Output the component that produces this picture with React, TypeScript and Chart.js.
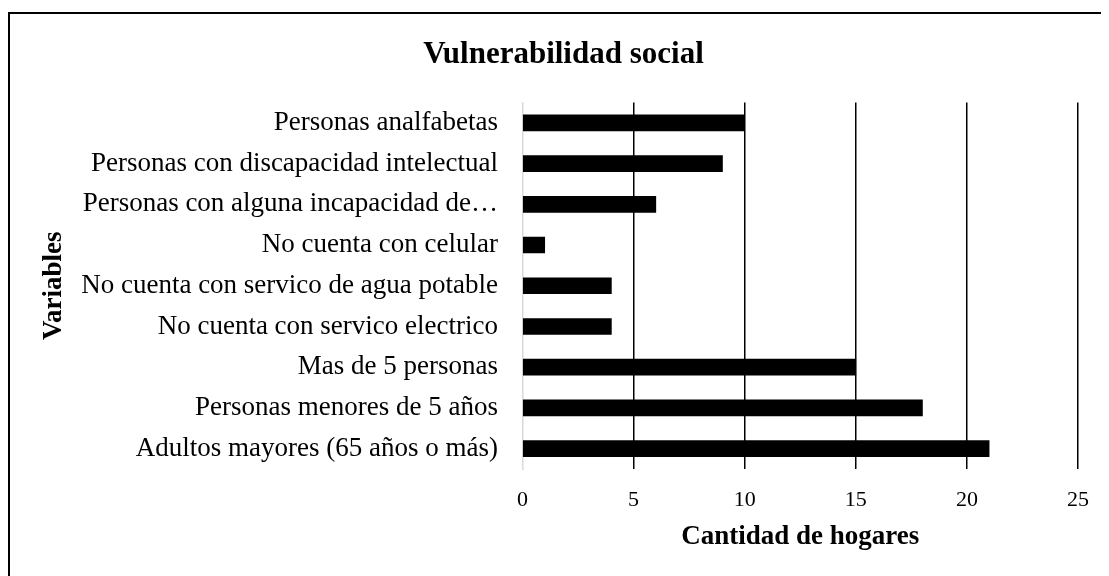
import React, { useEffect, useRef } from "react";
import { Chart, registerables } from "chart.js";

Chart.register(...registerables);

const chartTitle = "Vulnerabilidad social";
const xAxisTitle = "Cantidad de hogares";
const yAxisTitle = "Variables";

const categories = [
  "Personas analfabetas",
  "Personas con discapacidad intelectual",
  "Personas con alguna incapacidad de…",
  "No cuenta con celular",
  "No cuenta con servico de agua potable",
  "No cuenta con servico electrico",
  "Mas de 5 personas",
  "Personas menores de 5 años",
  "Adultos mayores (65 años o más)",
];

const hogares = [10, 9, 6, 1, 4, 4, 15, 18, 21];

const xMin = 0;
const xMax = 25;
const xStep = 5;

const FONT = "'Liberation Serif', 'Times New Roman', serif";

const titlePlugin = {
  id: "customTitle",
  afterDraw(chart: any) {
    const ctx = chart.ctx;
    ctx.save();
    ctx.font = `bold 31px ${FONT}`;
    ctx.fillStyle = "#000";
    ctx.textAlign = "center";
    ctx.textBaseline = "alphabetic";
    ctx.fillText(chartTitle, 553.5, 48.5);
    ctx.restore();
  },
};

export default function App() {
  const canvasRef = useRef<HTMLCanvasElement | null>(null);

  useEffect(() => {
    document.body.style.overflow = "hidden";
    const canvas = canvasRef.current;
    if (!canvas) return;
    const chart = new Chart(canvas, {
      type: "bar",
      data: {
        labels: categories,
        datasets: [
          {
            label: xAxisTitle,
            data: hogares,
            backgroundColor: "#000000",
            borderWidth: 0,
            barThickness: 16,
          },
        ],
      },
      plugins: [titlePlugin],
      options: {
        indexAxis: "y",
        animation: false,
        responsive: false,
        maintainAspectRatio: false,
        layout: { padding: { top: 88.5, right: 31, left: 0, bottom: 0 } },
        plugins: {
          legend: { display: false },
          tooltip: { enabled: false },
          title: { display: false },
        },
        scales: {
          x: {
            type: "linear",
            min: xMin,
            max: xMax,
            ticks: {
              stepSize: xStep,
              color: "#000",
              padding: 18,
              font: { family: FONT, size: 22 },
            },
            grid: {
              drawTicks: false,
              lineWidth: 1.5,
              color: (c: any) => (c.index === 0 ? "rgba(0,0,0,0)" : "#000000"),
            },
            border: { display: false },
            title: {
              display: true,
              text: xAxisTitle,
              color: "#000",
              font: { family: FONT, size: 27, weight: "bold" },
              padding: { top: 0, bottom: 22.8 },
            },
            afterFit(scale: any) {
              scale.height = 107;
            },
          },
          y: {
            type: "category",
            ticks: {
              color: "#000",
              padding: 24.5,
              font: { family: FONT, size: 27 },
            },
            grid: { display: false, drawTicks: false },
            border: { display: true, color: "#d9d9d9", width: 1.5 },
            title: {
              display: true,
              text: yAxisTitle,
              color: "#000",
              font: { family: FONT, size: 27, weight: "bold" },
              padding: { top: 27.8, bottom: 0 },
            },
            afterFit(scale: any) {
              scale.width = 512.5;
            },
          },
        },
      },
    });
    return () => chart.destroy();
  }, []);

  return (
    <div style={{ paddingTop: 4 }}>
      <div
        style={{
          borderTop: "2px solid #000",
          borderLeft: "2px solid #000",
          width: 1110,
          height: 562,
          background: "#fff",
        }}
      >
        <canvas
          ref={canvasRef}
          width={1099}
          height={562}
          style={{ display: "block", width: 1099, height: 562 }}
        />
      </div>
    </div>
  );
}
